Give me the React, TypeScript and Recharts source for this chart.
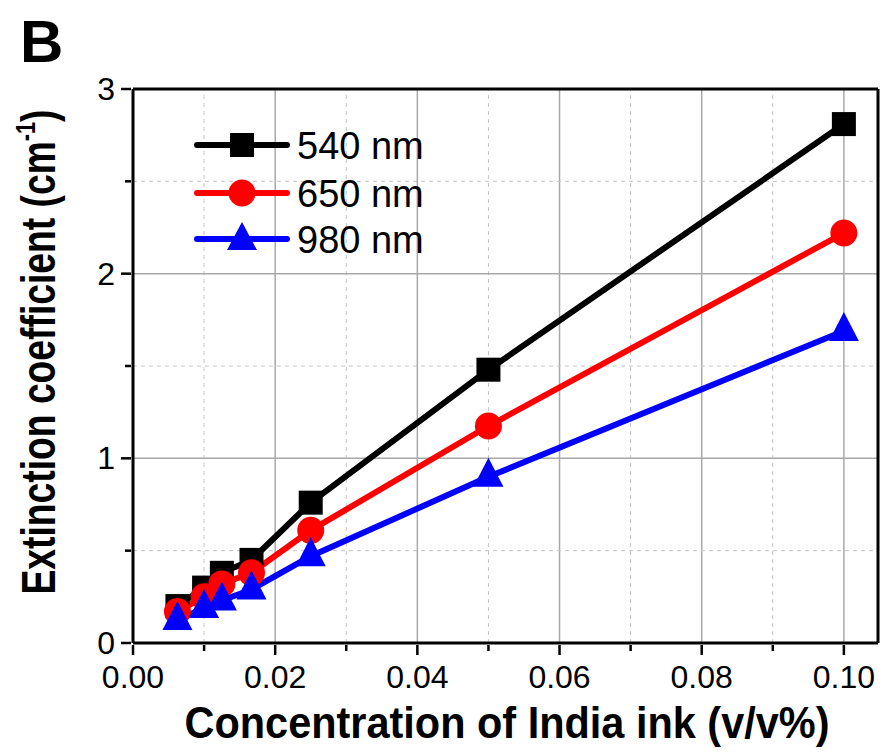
import React from 'react';
import { LineChart, Line, XAxis, YAxis, ReferenceLine } from 'recharts';

const concentrations = [0.00625, 0.01, 0.0125, 0.01667, 0.025, 0.05, 0.1];
const ext540 = [0.2, 0.3, 0.38, 0.45, 0.76, 1.48, 2.81];
const ext650 = [0.17, 0.25, 0.32, 0.38, 0.61, 1.175, 2.22];
const ext980 = [0.125, 0.19, 0.23, 0.29, 0.47, 0.9, 1.69];

const seriesNames = ['540 nm', '650 nm', '980 nm'];
const seriesColors = ['#000000', '#ff0000', '#0000ff'];

const xTicks = [0, 0.01, 0.02, 0.03, 0.04, 0.05, 0.06, 0.07, 0.08, 0.09, 0.1];
const xMajor = [0, 0.02, 0.04, 0.06, 0.08, 0.1];
const yTicks = [0, 0.5, 1, 1.5, 2, 2.5, 3];
const yMajor = [0, 1, 2, 3];
const X_MAX = 0.1048;
const Y_MAX = 3;

const data = concentrations.map((c, i) => ({
  c,
  s540: ext540[i],
  s650: ext650[i],
  s980: ext980[i],
}));

const FONT = 'Liberation Sans, Arial, Helvetica, sans-serif';

const isMajor = (arr: number[], v: number) => arr.some((m) => Math.abs(m - v) < 1e-9);

const XTick = (props: any) => {
  const { x, y, payload } = props;
  const major = isMajor(xMajor, payload.value);
  return (
    <g>
      <line x1={x} x2={x} y1={y} y2={y + (major ? 10 : 6)} stroke="#000" strokeWidth={2.5} />
      {major && (
        <text x={x} y={y + 43} textAnchor="middle" fontSize={32} fontFamily={FONT} fill="#000">
          {payload.value.toFixed(2)}
        </text>
      )}
    </g>
  );
};

const YTick = (props: any) => {
  const { x, y, payload } = props;
  const major = isMajor(yMajor, payload.value);
  return (
    <g>
      <line x1={x} x2={x - (major ? 10 : 6)} y1={y} y2={y} stroke="#000" strokeWidth={2.5} />
      {major && (
        <text x={x - 16} y={y + 11} textAnchor="end" fontSize={32} fontFamily={FONT} fill="#000">
          {String(payload.value)}
        </text>
      )}
    </g>
  );
};

const SquareDot = (props: any) => {
  const { cx, cy, index } = props;
  if (cx == null || cy == null) return <g key={index} />;
  return <rect key={index} x={cx - 12} y={cy - 12} width={24} height={24} fill="#000" />;
};

const TriangleDot = (props: any) => {
  const { cx, cy, index } = props;
  if (cx == null || cy == null) return <g key={index} />;
  const pts = `${cx},${cy - 19} ${cx - 15},${cy + 10} ${cx + 15},${cy + 10}`;
  return <polygon key={index} points={pts} fill="#0000ff" />;
};

const CircleDot = (props: any) => {
  const { cx, cy, index } = props;
  if (cx == null || cy == null) return <g key={index} />;
  return <circle key={index} cx={cx} cy={cy} r={13.5} fill="#ff0000" />;
};

const LegendBox = () => {
  const rows = [145, 193, 239];
  return (
    <g>
      {seriesNames.map((name, i) => {
        const ry = rows[i];
        const col = seriesColors[i];
        return (
          <g key={name}>
            <line x1={197} x2={287} y1={ry} y2={ry} stroke={col} strokeWidth={6} strokeLinecap="round" />
            {i === 0 && <rect x={230} y={ry - 12} width={24} height={24} fill={col} />}
            {i === 1 && <circle cx={242} cy={ry} r={13.5} fill={col} />}
            {i === 2 && <polygon points={`242,${ry - 17} 227,${ry + 11} 257,${ry + 11}`} fill={col} />}
            <text x={297} y={ry + 14} fontSize={38} fontFamily={FONT} fill="#000">
              {name}
            </text>
          </g>
        );
      })}
    </g>
  );
};

const YLabel = () => (
  <text
    transform="translate(55, 352) rotate(-90)"
    textAnchor="middle"
    fontSize={48}
    fontWeight="bold"
    fontFamily={FONT}
    fill="#000"
    textLength={485}
    lengthAdjust="spacingAndGlyphs"
  >
    Extinction coefficient (cm
    <tspan fontSize={28} dy={-20}>-1</tspan>
    <tspan dy={20}>)</tspan>
  </text>
);

const XLabel = () => (
  <text
    x={507}
    y={738}
    textAnchor="middle"
    fontSize={45}
    fontWeight="bold"
    fontFamily={FONT}
    fill="#000"
    textLength={645}
    lengthAdjust="spacingAndGlyphs"
  >
    Concentration of India ink (v/v%)
  </text>
);

export default function App() {
  return (
    <div style={{ position: 'absolute', left: 0, top: 0, width: 882, height: 752, background: '#fff' }}>
      <LineChart
        width={882}
        height={752}
        data={data}
        margin={{ top: 89, right: 4, bottom: 0, left: 0 }}
      >
        <XAxis
          dataKey="c"
          type="number"
          domain={[0, X_MAX]}
          ticks={xTicks}
          interval={0}
          height={109}
          tickSize={0}
          tickLine={false}
          tick={<XTick />}
          axisLine={{ stroke: '#000', strokeWidth: 3 }}
          allowDataOverflow
        />
        <YAxis
          type="number"
          domain={[0, Y_MAX]}
          ticks={yTicks}
          interval={0}
          width={133}
          tickSize={0}
          tickLine={false}
          tick={<YTick />}
          axisLine={{ stroke: '#000', strokeWidth: 3 }}
          allowDataOverflow
        />
        {xTicks.filter((v) => v > 0).map((v) => (
          <ReferenceLine
            key={'gx' + v}
            x={v}
            stroke={isMajor(xMajor, v) ? '#a8a8a8' : '#c4c4c4'}
            strokeWidth={isMajor(xMajor, v) ? 1.5 : 1}
            strokeDasharray={isMajor(xMajor, v) ? undefined : '4 4'}
          />
        ))}
        {yTicks.filter((v) => v > 0 && v < Y_MAX).map((v) => (
          <ReferenceLine
            key={'gy' + v}
            y={v}
            stroke={isMajor(yMajor, v) ? '#a8a8a8' : '#c4c4c4'}
            strokeWidth={isMajor(yMajor, v) ? 1.5 : 1}
            strokeDasharray={isMajor(yMajor, v) ? undefined : '4 4'}
          />
        ))}
        <ReferenceLine y={Y_MAX} stroke="#000" strokeWidth={3} ifOverflow="visible" />
        <ReferenceLine x={X_MAX} stroke="#000" strokeWidth={3} ifOverflow="visible" />
        <Line
          dataKey="s540"
          name={seriesNames[0]}
          stroke={seriesColors[0]}
          strokeWidth={6}
          dot={SquareDot}
          activeDot={false}
          isAnimationActive={false}
        />
        <Line
          dataKey="s650"
          name={seriesNames[1]}
          stroke={seriesColors[1]}
          strokeWidth={6}
          dot={CircleDot}
          activeDot={false}
          isAnimationActive={false}
        />
        <Line
          dataKey="s980"
          name={seriesNames[2]}
          stroke={seriesColors[2]}
          strokeWidth={6}
          dot={TriangleDot}
          activeDot={false}
          isAnimationActive={false}
        />
      </LineChart>
      <svg width={882} height={752} style={{ position: 'absolute', left: 0, top: 0, pointerEvents: 'none' }}>
        <text x={20} y={62} fontSize={60} fontWeight="bold" fontFamily={FONT} fill="#000">
          B
        </text>
        <LegendBox />
        <YLabel />
        <XLabel />
      </svg>
    </div>
  );
}
